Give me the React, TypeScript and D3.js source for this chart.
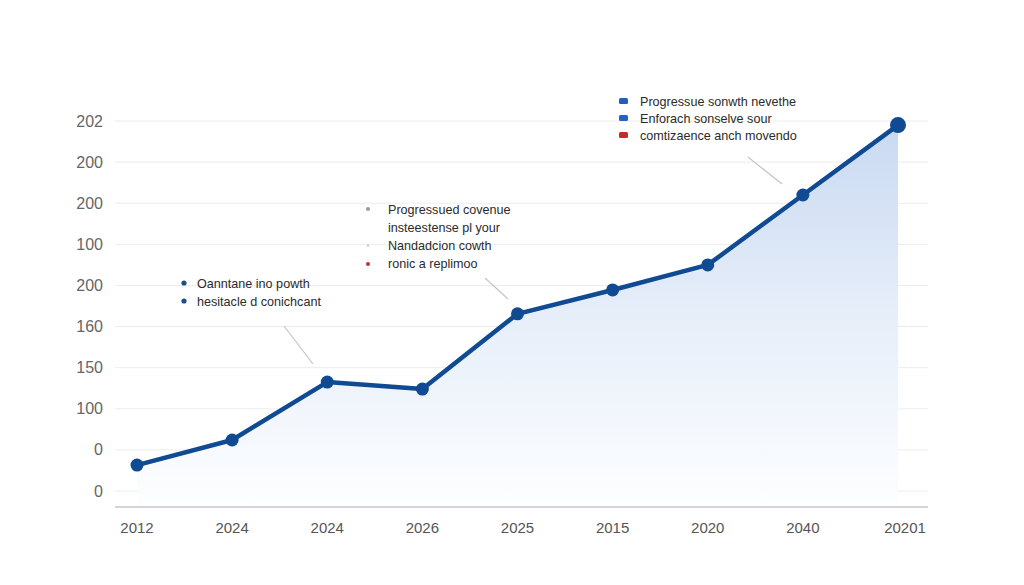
import { useEffect, useRef } from "react"
import * as d3 from "d3"

// x categories, left to right
const years = ["2012", "2024", "2024", "2026", "2025", "2015", "2020", "2040", "20201"]
// series values, in grid steps above the lowest gridline
const values = [0.63, 1.24, 2.65, 2.48, 4.31, 4.89, 5.5, 7.2, 8.9]
// y tick labels, bottom to top
const yTickLabels = ["0", "0", "100", "150", "160", "200", "100", "200", "200", "202"]

// annotation blocks
const topNotes = ["Progressue sonwth nevethe", "Enforach sonselve sour", "comtizaence anch movendo"]
const topNoteColors = ["#1d5fc4", "#2263c6", "#c62a2a"]
const midNotes = ["Progressued covenue", "insteestense pl your", "Nandadcion cowth", "ronic a replimoo"]
const midNoteColors = ["#9a9a9a", null, "#b8b8b8", "#c43030"]
const leftNotes = ["Oanntane ino powth", "hesitacle d conichcant"]

export default function App() {
  const svgRef = useRef<SVGSVGElement>(null)

  useEffect(() => {
    if (!svgRef.current) return
    const svg = d3.select(svgRef.current)
    svg.selectAll("*").remove()

    const width = 1024
    const height = 585
    const gridLeft = 115
    const gridRight = 928
    const font = "'Liberation Sans', Arial, sans-serif"

    const xScale = d3
      .scalePoint<number>()
      .domain(d3.range(years.length))
      .range([137, 898])

    const yScale = d3.scaleLinear().domain([0, 9]).range([491, 121])
    const axisY = yScale(0) + 16

    svg.append("rect").attr("width", width).attr("height", height).attr("fill", "#ffffff")

    // Gradient for the area under the line
    const defs = svg.append("defs")
    const grad = defs
      .append("linearGradient")
      .attr("id", "areaFill")
      .attr("gradientUnits", "userSpaceOnUse")
      .attr("x1", 0)
      .attr("y1", yScale(9))
      .attr("x2", 0)
      .attr("y2", axisY)
    grad.append("stop").attr("offset", "0%").attr("stop-color", "#c8d9f1")
    grad.append("stop").attr("offset", "50%").attr("stop-color", "#e6eef9")
    grad.append("stop").attr("offset", "100%").attr("stop-color", "#fdfeff")

    // Gridlines and y labels
    const ticks = d3.range(yTickLabels.length)
    svg
      .append("g")
      .selectAll("line")
      .data(ticks)
      .join("line")
      .attr("x1", gridLeft)
      .attr("x2", gridRight)
      .attr("y1", (d) => yScale(d))
      .attr("y2", (d) => yScale(d))
      .attr("stroke", "#ececec")
      .attr("stroke-width", 1)

    svg
      .append("g")
      .selectAll("text")
      .data(ticks)
      .join("text")
      .attr("x", 103)
      .attr("y", (d) => yScale(d) + 5.5)
      .attr("text-anchor", "end")
      .attr("font-family", font)
      .attr("font-size", 16)
      .attr("fill", "#666")
      .text((d) => yTickLabels[d])

    // Area under the line
    const area = d3
      .area<number>()
      .x((d, i) => xScale(i)!)
      .y0(axisY)
      .y1((d) => yScale(d))
    svg.append("path").datum(values).attr("d", area).attr("fill", "url(#areaFill)")

    // Baseline axis
    svg
      .append("line")
      .attr("x1", gridLeft)
      .attr("x2", gridRight)
      .attr("y1", axisY)
      .attr("y2", axisY)
      .attr("stroke", "#d4d4d4")
      .attr("stroke-width", 2)

    // x labels
    svg
      .append("g")
      .selectAll("text")
      .data(years)
      .join("text")
      .attr("x", (d, i) => xScale(i)! + (i === years.length - 1 ? 7 : 0))
      .attr("y", axisY + 26)
      .attr("text-anchor", "middle")
      .attr("font-family", font)
      .attr("font-size", 15)
      .attr("fill", "#555")
      .text((d) => d)

    // Line and points
    const line = d3
      .line<number>()
      .x((d, i) => xScale(i)!)
      .y((d) => yScale(d))
    svg
      .append("path")
      .datum(values)
      .attr("d", line)
      .attr("fill", "none")
      .attr("stroke", "#0f4a93")
      .attr("stroke-width", 4.5)
      .attr("stroke-linejoin", "round")

    svg
      .append("g")
      .selectAll("circle")
      .data(values)
      .join("circle")
      .attr("cx", (d, i) => xScale(i)!)
      .attr("cy", (d) => yScale(d))
      .attr("r", (d, i) => (i === values.length - 1 ? 8 : 6.5))
      .attr("fill", "#0f4a93")

    // Leader lines from the notes to the series
    const leaders = [
      [284, 326, 313, 364],
      [485, 278, 508, 299],
      [748, 157, 782, 184],
    ]
    svg
      .append("g")
      .selectAll("line")
      .data(leaders)
      .join("line")
      .attr("x1", (d) => d[0])
      .attr("y1", (d) => d[1])
      .attr("x2", (d) => d[2])
      .attr("y2", (d) => d[3])
      .attr("stroke", "#c4c4c4")
      .attr("stroke-width", 1.2)

    // Top-right note block
    const top = svg.append("g")
    topNotes.forEach((t, i) => {
      const cy = 101 + i * 17
      top
        .append("rect")
        .attr("x", 619)
        .attr("y", cy - 3)
        .attr("width", 9)
        .attr("height", 6)
        .attr("rx", 1.5)
        .attr("fill", topNoteColors[i])
      top
        .append("text")
        .attr("x", 640)
        .attr("y", cy + 4.5)
        .attr("font-family", font)
        .attr("font-size", 12.6)
        .attr("fill", "#2b2b2b")
        .text(t)
    })

    // Middle note block
    const mid = svg.append("g")
    midNotes.forEach((t, i) => {
      const cy = 209 + i * 18.3
      const c = midNoteColors[i]
      if (c) {
        mid
          .append("circle")
          .attr("cx", 368)
          .attr("cy", cy)
          .attr("r", i === 2 ? 1 : 2)
          .attr("fill", c)
      }
      mid
        .append("text")
        .attr("x", 388)
        .attr("y", cy + 4.5)
        .attr("font-family", font)
        .attr("font-size", 12.6)
        .attr("fill", "#2b2b2b")
        .text(t)
    })

    // Left note block
    const left = svg.append("g")
    leftNotes.forEach((t, i) => {
      const cy = 283 + i * 18
      left.append("circle").attr("cx", 184).attr("cy", cy).attr("r", 2.6).attr("fill", "#1f4e8c")
      left
        .append("text")
        .attr("x", 197)
        .attr("y", cy + 4.5)
        .attr("font-family", font)
        .attr("font-size", 12.6)
        .attr("fill", "#2b2b2b")
        .text(t)
    })
  }, [])

  return (
    <svg
      ref={svgRef}
      width={1024}
      height={585}
      style={{ position: "fixed", top: 0, left: 0, display: "block" }}
    />
  )
}
